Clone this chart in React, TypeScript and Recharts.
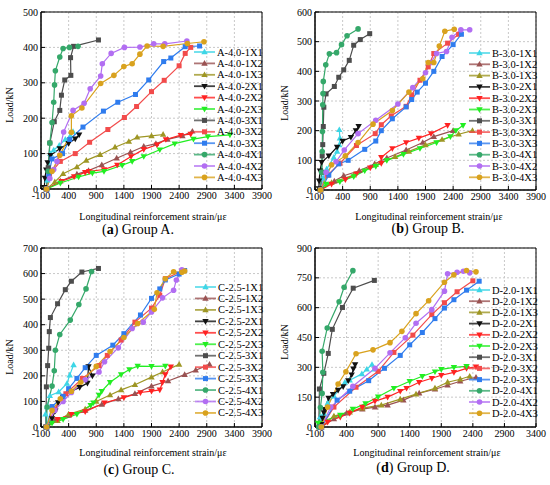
import { LineChart, Line, XAxis, YAxis, CartesianGrid, ReferenceArea } from 'recharts';

type Pt = [number, number];

const suffixes = ['1X1', '1X2', '1X3', '2X1', '2X2', '2X3', '3X1', '3X2', '3X3', '4X1', '4X2', '4X3'];
const seriesColors = ['#3DD6E6', '#9A5252', '#9E9624', '#111111', '#FF2222', '#22EE22', '#4D4D4D', '#F24B4B', '#2F7CEE', '#35A86A', '#B26EF2', '#D9A21E'];
const seriesShapes = ['up', 'up', 'up', 'down', 'down', 'down', 'square', 'square', 'square', 'circle', 'circle', 'circle'];

const xTicksABC = [-100, 400, 900, 1400, 1900, 2400, 2900, 3400, 3900];
const xTicksD = [-100, 400, 900, 1400, 1900, 2400, 2900, 3400];
const yTicksA = [0, 100, 200, 300, 400, 500];
const yTicksB = [0, 100, 200, 300, 400, 500, 600];
const yTicksC = [0, 100, 200, 300, 400, 500, 600, 700];
const yTicksD = [0, 150, 300, 450, 600, 750, 900];

// Group A  [strain, load]
const A_1X1: Pt[] = [[0, 0], [15, 25], [40, 60], [70, 100], [130, 110], [230, 123], [340, 140], [430, 150], [480, 162]];
const A_1X2: Pt[] = [[0, 0], [250, 22], [550, 42], [760, 52], [1000, 68], [1270, 87], [1520, 104], [1760, 120], [1980, 128], [2190, 140], [2460, 150], [2640, 163]];
const A_1X3: Pt[] = [[0, 0], [150, 20], [300, 43], [550, 62], [720, 81], [970, 97], [1240, 118], [1490, 134], [1640, 146], [1900, 150], [2110, 154]];
const A_2X1: Pt[] = [[-40, 5], [-30, 31], [-5, 54], [20, 75], [70, 95], [240, 114], [400, 129], [520, 142], [590, 153]];
const A_2X2: Pt[] = [[0, 0], [270, 22], [500, 35], [700, 47], [770, 50], [1040, 55], [1280, 68], [1530, 92], [1760, 112], [2000, 125], [2160, 140], [2430, 152], [2610, 155]];
const A_2X3: Pt[] = [[0, 0], [250, 17], [580, 34], [830, 45], [1040, 50], [1370, 67], [1550, 78], [1760, 92], [2050, 111], [2320, 128], [2660, 141], [2920, 148], [3320, 153]];
const A_3X1: Pt[] = [[0, 0], [30, 60], [60, 130], [140, 190], [240, 222], [270, 265], [330, 308], [440, 321], [435, 371], [490, 403], [940, 421]];
const A_3X2: Pt[] = [[0, 0], [50, 40], [250, 78], [520, 100], [780, 132], [1110, 168], [1410, 202], [1630, 233], [1900, 275], [2130, 307], [2400, 348], [2510, 383], [2610, 400]];
const A_3X3: Pt[] = [[0, 0], [40, 40], [100, 85], [290, 100], [420, 140], [660, 175], [1030, 220], [1290, 245], [1610, 267], [1850, 308], [2120, 360], [2250, 370], [2510, 402], [2770, 404]];
const A_4X1: Pt[] = [[0, 0], [30, 50], [60, 130], [100, 188], [130, 245], [145, 294], [160, 334], [240, 373], [300, 397], [415, 400], [570, 403]];
const A_4X2: Pt[] = [[0, 0], [60, 30], [130, 55], [190, 78], [310, 161], [480, 222], [680, 242], [790, 283], [980, 319], [1010, 354], [1170, 383], [1410, 400], [1690, 401], [1940, 410], [2140, 410], [2540, 418]];
const A_4X3: Pt[] = [[0, 0], [100, 50], [240, 95], [450, 160], [450, 207], [640, 229], [980, 298], [1220, 321], [1400, 346], [1550, 354], [1690, 381], [1820, 404], [2110, 403], [2550, 411], [2850, 416]];

// Group B
const B_1X1: Pt[] = [[0, 0], [40, 40], [110, 70], [240, 110], [300, 130], [340, 152], [350, 175], [340, 203]];
const B_1X2: Pt[] = [[0, 0], [250, 30], [420, 48], [700, 65], [980, 88], [1200, 108], [1550, 135], [1850, 160], [2050, 180], [2400, 200]];
const B_1X3: Pt[] = [[0, 0], [200, 25], [600, 50], [1000, 85], [1350, 112], [1600, 130], [1900, 152], [2200, 170], [2500, 188], [2750, 200]];
const B_2X1: Pt[] = [[-30, 5], [-25, 31], [-10, 65], [20, 93], [150, 115], [300, 145], [400, 165], [550, 178], [640, 200], [690, 215]];
const B_2X2: Pt[] = [[0, 0], [200, 20], [450, 35], [650, 55], [900, 75], [1100, 90], [1100, 110], [1300, 140], [1550, 160], [1780, 175], [2000, 190], [2300, 218]];
const B_2X3: Pt[] = [[0, 0], [100, 20], [350, 28], [600, 45], [800, 65], [1000, 80], [1200, 100], [1500, 120], [1800, 140], [2100, 160], [2350, 180], [2450, 200], [2580, 218]];
const B_3X1: Pt[] = [[0, 0], [20, 60], [30, 115], [40, 153], [50, 214], [60, 279], [100, 324], [250, 349], [330, 380], [420, 405], [520, 437], [600, 488], [720, 507], [890, 527]];
const B_3X2: Pt[] = [[0, 0], [130, 50], [350, 90], [650, 150], [990, 190], [1100, 220], [1280, 250], [1550, 282], [1650, 320], [1800, 370], [1950, 415], [2050, 460], [2300, 495], [2500, 525]];
const B_3X3: Pt[] = [[0, 0], [150, 50], [330, 88], [500, 100], [800, 137], [1000, 165], [1100, 200], [1300, 240], [1550, 280], [1650, 305], [1750, 330], [1900, 360], [2050, 400], [2200, 450], [2400, 490], [2550, 525]];
const B_4X1: Pt[] = [[0, 0], [20, 60], [30, 130], [35, 197], [40, 287], [45, 325], [50, 366], [95, 422], [160, 459], [290, 463], [380, 490], [480, 520], [680, 543]];
const B_4X2: Pt[] = [[0, 0], [100, 60], [280, 95], [430, 135], [680, 190], [1000, 235], [1400, 290], [1670, 345], [1900, 395], [2000, 430], [2100, 460], [2280, 467], [2380, 515], [2540, 540], [2700, 540]];
const B_4X3: Pt[] = [[0, 0], [200, 85], [450, 115], [680, 160], [950, 222], [1300, 268], [1600, 330], [1850, 375], [1950, 430], [2050, 430], [2150, 485], [2250, 535], [2420, 542]];

// Group C
const C_1X1: Pt[] = [[0, 0], [-20, 50], [10, 78], [60, 122], [220, 137], [370, 170], [420, 203], [490, 243]];
const C_1X2: Pt[] = [[0, 0], [150, 25], [400, 45], [700, 65], [1000, 88], [1300, 110], [1600, 130], [1900, 160], [2200, 180], [2500, 205], [2700, 222], [2950, 245]];
const C_1X3: Pt[] = [[0, 0], [200, 25], [400, 50], [700, 70], [900, 100], [1150, 125], [1350, 145], [1600, 165], [1900, 195], [2100, 215], [2400, 245]];
const C_2X1: Pt[] = [[0, 0], [100, 33], [160, 63], [210, 96], [300, 117], [430, 138], [600, 155], [740, 172], [760, 236], [830, 200]];
const C_2X2: Pt[] = [[0, 0], [200, 30], [450, 50], [700, 60], [1050, 95], [1400, 115], [1700, 135], [1900, 140], [2050, 145], [2100, 175], [2150, 205], [2250, 235]];
const C_2X3: Pt[] = [[0, 0], [100, 15], [300, 30], [550, 50], [800, 85], [850, 95], [950, 125], [1000, 140], [1150, 175], [1350, 205], [1500, 225], [1650, 238], [1900, 237], [2150, 238]];
const C_3X1: Pt[] = [[-10, 0], [-3, 157], [20, 240], [40, 308], [50, 373], [70, 428], [200, 482], [340, 537], [450, 570], [640, 606], [940, 620]];
const C_3X2: Pt[] = [[0, 0], [150, 70], [350, 130], [650, 190], [950, 240], [1100, 280], [1350, 340], [1600, 410], [1900, 465], [2050, 515], [2150, 580], [2450, 610]];
const C_3X3: Pt[] = [[0, 0], [100, 80], [300, 120], [400, 150], [550, 190], [700, 232], [900, 280], [1200, 320], [1400, 365], [1700, 438], [1900, 503], [2050, 540], [2150, 575], [2400, 598], [2500, 612]];
const C_4X1: Pt[] = [[0, 0], [10, 78], [100, 160], [140, 220], [160, 300], [240, 362], [430, 418], [585, 479], [715, 540], [815, 608]];
const C_4X2: Pt[] = [[0, 0], [150, 65], [300, 100], [450, 135], [700, 185], [950, 215], [1050, 255], [1300, 310], [1550, 385], [1750, 410], [1900, 450], [2100, 505], [2300, 535], [2350, 575], [2450, 615]];
const C_4X3: Pt[] = [[0, 0], [100, 65], [250, 110], [450, 140], [620, 175], [900, 237], [1150, 295], [1400, 350], [1650, 405], [1950, 460], [2000, 525], [2150, 580], [2300, 607], [2450, 605], [2500, 610]];

// Group D
const D_1X1: Pt[] = [[0, 0], [-20, 50], [40, 68], [100, 120], [200, 155], [373, 224], [450, 235], [642, 267], [720, 290], [803, 314], [840, 290]];
const D_1X2: Pt[] = [[0, 0], [200, 40], [400, 70], [650, 90], [850, 100], [1050, 110], [1300, 135], [1550, 170], [1800, 190], [2000, 210], [2200, 230], [2450, 250]];
const D_1X3: Pt[] = [[0, 0], [200, 55], [450, 75], [650, 95], [950, 110], [1250, 140], [1500, 165], [1800, 195], [2000, 225], [2200, 240], [2350, 255]];
const D_2X1: Pt[] = [[-3, 13], [20, 45], [40, 73], [50, 89], [115, 145], [185, 165], [266, 186], [346, 203], [427, 233], [481, 263], [508, 292], [535, 314]];
const D_2X2: Pt[] = [[0, 0], [100, 25], [300, 50], [450, 70], [650, 100], [850, 130], [1050, 150], [1250, 180], [1350, 195], [1550, 225], [1750, 245], [1900, 260], [2100, 275], [2300, 295], [2450, 303]];
const D_2X3: Pt[] = [[0, 0], [-50, 20], [300, 60], [500, 90], [700, 118], [900, 152], [1150, 195], [1400, 230], [1600, 255], [1800, 278], [1900, 290], [2100, 300], [2300, 305]];
const D_3X1: Pt[] = [[-40, 0], [-30, 191], [40, 270], [110, 370], [174, 491], [335, 601], [505, 698], [840, 737]];
const D_3X2: Pt[] = [[0, 0], [200, 100], [550, 200], [900, 280], [1150, 375], [1450, 462], [1750, 565], [1950, 625], [2150, 680], [2400, 735]];
const D_3X3: Pt[] = [[0, 0], [250, 135], [450, 180], [750, 233], [1000, 295], [1250, 360], [1400, 413], [1600, 475], [1800, 545], [1950, 598], [2100, 640], [2300, 688], [2500, 733]];
const D_4X1: Pt[] = [[-40, 0], [-14, 98], [13, 169], [24, 275], [13, 381], [94, 498], [282, 630], [361, 703], [500, 786]];
const D_4X2: Pt[] = [[0, 0], [150, 100], [500, 205], [850, 295], [1088, 373], [1330, 449], [1500, 522], [1750, 590], [1950, 683], [2000, 770], [2150, 778], [2250, 783], [2350, 775]];
const D_4X3: Pt[] = [[0, 0], [100, 100], [266, 216], [389, 278], [550, 368], [819, 388], [1088, 424], [1276, 481], [1500, 570], [1700, 635], [1950, 728], [2100, 765], [2300, 787], [2450, 780]];

const groupA = [A_1X1, A_1X2, A_1X3, A_2X1, A_2X2, A_2X3, A_3X1, A_3X2, A_3X3, A_4X1, A_4X2, A_4X3];
const groupB = [B_1X1, B_1X2, B_1X3, B_2X1, B_2X2, B_2X3, B_3X1, B_3X2, B_3X3, B_4X1, B_4X2, B_4X3];
const groupC = [C_1X1, C_1X2, C_1X3, C_2X1, C_2X2, C_2X3, C_3X1, C_3X2, C_3X3, C_4X1, C_4X2, C_4X3];
const groupD = [D_1X1, D_1X2, D_1X3, D_2X1, D_2X2, D_2X3, D_3X1, D_3X2, D_3X3, D_4X1, D_4X2, D_4X3];

const serif = "'Liberation Serif', 'Times New Roman', serif";

function Marker({ shape, color, cx, cy }: { shape: string; color: string; cx: number; cy: number }) {
  if (shape === 'up')
    return <polygon points={`${cx},${cy - 3.4} ${cx - 3.2},${cy + 2.3} ${cx + 3.2},${cy + 2.3}`} fill={color} />;
  if (shape === 'down')
    return <polygon points={`${cx},${cy + 3.4} ${cx - 3.2},${cy - 2.3} ${cx + 3.2},${cy - 2.3}`} fill={color} />;
  if (shape === 'square') return <rect x={cx - 2.5} y={cy - 2.5} width={5} height={5} fill={color} />;
  return <circle cx={cx} cy={cy} r={2.8} fill={color} />;
}

const makeDot = (shape: string, color: string) => (p: any) => {
  if (p.cx == null || p.cy == null) return <g key={`d${p.index}`} />;
  return (
    <g key={`d${p.index}`}>
      <Marker shape={shape} color={color} cx={p.cx} cy={p.cy} />
    </g>
  );
};

const toRows = (pts: Pt[]) => pts.map(([strain, load]) => ({ strain, load }));

function Centered({ x, y, size, rotate, children }: any) {
  return (
    <div
      style={{
        position: 'absolute',
        left: x,
        top: y,
        transform: `translate(-50%, -50%)${rotate ? ' rotate(-90deg)' : ''}`,
        whiteSpace: 'nowrap',
        fontFamily: serif,
        fontSize: size,
        color: '#000',
        lineHeight: 1,
      }}
    >
      {children}
    </div>
  );
}

function Panel(props: any) {
  const { left, top, group, prefix, yMax, yTicks, xMax, xTicks, margin, letter, name, yTitle, xTitle, cap, legend } = props;
  return (
    <div style={{ position: 'absolute', left, top, width: 275, height: 242 }}>
      <LineChart width={275} height={240} margin={margin}>
        <CartesianGrid strokeDasharray="2 2" stroke="#c8c8c8" />
        <XAxis
          dataKey="strain"
          type="number"
          domain={[-100, xMax]}
          ticks={xTicks}
          interval={0}
          height={20}
          tickSize={-4}
          tickMargin={7}
          stroke="#000"
          tick={{ fontSize: 10, fill: '#000', fontFamily: serif }}
        />
        <YAxis
          type="number"
          domain={[0, yMax]}
          ticks={yTicks}
          interval={0}
          width={30}
          tickSize={-4}
          tickMargin={7}
          stroke="#000"
          tick={{ fontSize: 10, fill: '#000', fontFamily: serif }}
        />
        <ReferenceArea x1={-100} x2={xMax} y1={0} y2={yMax} fill="none" stroke="#000" strokeWidth={1} />
        {group.map((pts: Pt[], i: number) => (
          <Line
            key={suffixes[i]}
            data={toRows(pts)}
            dataKey="load"
            name={prefix + suffixes[i]}
            stroke={seriesColors[i]}
            strokeWidth={1.2}
            dot={makeDot(seriesShapes[i], seriesColors[i])}
            activeDot={false}
            isAnimationActive={false}
          />
        ))}
      </LineChart>
      <svg width={275} height={240} style={{ position: 'absolute', left: 0, top: 0, pointerEvents: 'none' }}>
        {suffixes.map((s, i) => {
          const y = legend.y0 + i * legend.step;
          return (
            <g key={s}>
              <line x1={legend.x0} x2={legend.x0 + 21} y1={y} y2={y} stroke={seriesColors[i]} strokeWidth={1.8} strokeOpacity={0.8} />
              <Marker shape={seriesShapes[i]} color={seriesColors[i]} cx={legend.x0 + 10.5} cy={y} />
              <text x={legend.x0 + 23} y={y} dominantBaseline="central" fontFamily={serif} fontSize={10.5} fill="#000">
                {prefix + s}
              </text>
            </g>
          );
        })}
      </svg>
      <Centered x={yTitle[0]} y={yTitle[1]} size={10} rotate>
        Load/kN
      </Centered>
      <Centered x={xTitle[0]} y={xTitle[1]} size={10}>
        Longitudinal reinforcement strain/με
      </Centered>
      <Centered x={cap[0]} y={cap[1]} size={14}>
        (<b>{letter}</b>) {name}
      </Centered>
    </div>
  );
}

export default function App() {
  return (
    <div style={{ position: 'absolute', left: 0, top: 0, width: 550, height: 485, background: '#fff', overflow: 'hidden' }}>
      <Panel
        left={0}
        top={0}
        group={groupA}
        prefix="A-4.0-"
        yMax={500}
        yTicks={yTicksA}
        xMax={3900}
        xTicks={xTicksABC}
        margin={{ top: 12, right: 13, left: 11, bottom: 31 }}
        letter="a"
        name="Group A."
        yTitle={[10, 105]}
        xTitle={[153, 217]}
        cap={[138, 230]}
        legend={{ x0: 194, y0: 52, step: 11.4 }}
      />
      <Panel
        left={275}
        top={0}
        group={groupB}
        prefix="B-3.0-"
        yMax={600}
        yTicks={yTicksB}
        xMax={3900}
        xTicks={xTicksABC}
        margin={{ top: 12, right: 14, left: 10, bottom: 30 }}
        letter="b"
        name="Group B."
        yTitle={[10, 103]}
        xTitle={[154, 217]}
        cap={[153, 229]}
        legend={{ x0: 194, y0: 53, step: 11.3 }}
      />
      <Panel
        left={0}
        top={240}
        group={groupC}
        prefix="C-2.5-"
        yMax={700}
        yTicks={yTicksC}
        xMax={3900}
        xTicks={xTicksABC}
        margin={{ top: 8, right: 13, left: 11, bottom: 33 }}
        letter="c"
        name="Group C."
        yTitle={[10, 117]}
        xTitle={[153, 213]}
        cap={[139, 230]}
        legend={{ x0: 195, y0: 47, step: 11.45 }}
      />
      <Panel
        left={275}
        top={240}
        group={groupD}
        prefix="D-2.0-"
        yMax={900}
        yTicks={yTicksD}
        xMax={3400}
        xTicks={xTicksD}
        margin={{ top: 8, right: 14, left: 10, bottom: 33 }}
        letter="d"
        name="Group D."
        yTitle={[10, 102]}
        xTitle={[152, 213]}
        cap={[138, 228]}
        legend={{ x0: 194, y0: 50, step: 11.2 }}
      />
    </div>
  );
}
